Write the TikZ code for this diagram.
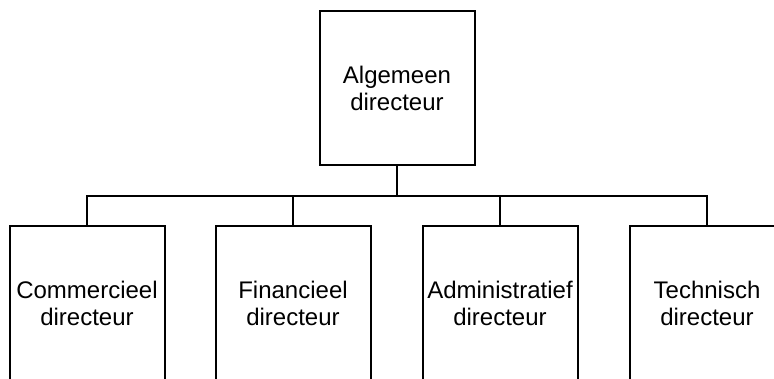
\documentclass[tikz,border=0pt]{standalone}
\usepackage{fontspec}
\setmainfont{Liberation Sans}
\begin{document}
\begin{tikzpicture}[x=1pt,y=-1pt,
  box/.style={draw,line width=2pt,rectangle,minimum width=155pt,minimum height=154pt,inner sep=0pt,align=center,font=\fontsize{24}{27}\selectfont},
  conn/.style={line width=2pt}]
\useasboundingbox (0,0) rectangle (774,379);
\clip (0,0) rectangle (774,379);
\node[box] (top) at (397,88) {Algemeen\\directeur};
\node[box] (c1) at (87,303) {Commercieel\\directeur};
\node[box] (c2) at (293,303) {Financieel\\directeur};
\node[box] (c3) at (500,303) {Administratief\\directeur};
\node[box] (c4) at (707,303) {Technisch\\directeur};
\foreach \c in {c1,c2,c3,c4}{
  \draw[conn] (top.south) -- ++(0,30) -| (\c.north);
}
\end{tikzpicture}
\end{document}
